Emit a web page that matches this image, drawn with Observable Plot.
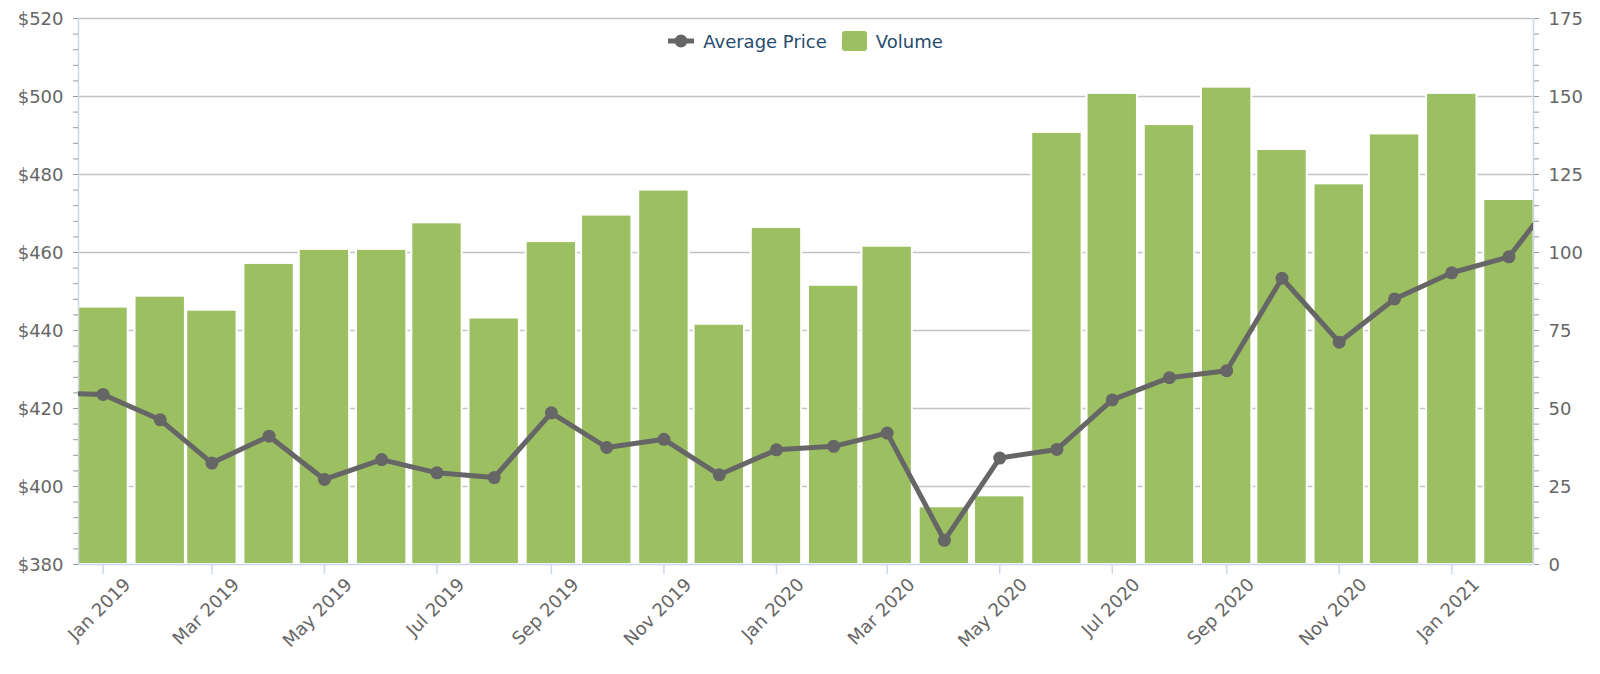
<!DOCTYPE html>
<html>
<head>
<meta charset="utf-8">
<script src="https://cdn.jsdelivr.net/npm/d3@7"></script>
<script src="https://cdn.jsdelivr.net/npm/@observablehq/plot@0.6"></script>
<style>
  html, body { margin: 0; padding: 0; background: #fff; }
  #wrap { position: relative; width: 1600px; height: 674px; font-family: "DejaVu Sans", sans-serif; }
  #legend { position: absolute; left: 78px; width: 1455px; top: 30px; height: 22px;
            display: flex; justify-content: center; align-items: center;
            font-size: 18px; color: #274b6d; }
  #legend .item { display: flex; align-items: center; }
  #legend svg { display: block; }
</style>
</head>
<body>
<div id="wrap">
  <div id="chart"></div>
  <div id="legend">
    <div class="item">
      <svg width="26" height="14"><line x1="0" y1="7" x2="26" y2="7" stroke="#666666" stroke-width="5"/><circle cx="13" cy="7" r="6.5" fill="#666666"/></svg>
      <span style="margin-left:9px">Average Price</span>
    </div>
    <div class="item" style="margin-left:15px">
      <svg width="25" height="20"><rect x="0" y="0" width="25" height="20" rx="3" fill="#9cbf62"/></svg>
      <span style="margin-left:9px">Volume</span>
    </div>
  </div>
</div>
<script>
// ---- Data ----
const priceMonths = ["2018-12","2019-01","2019-02","2019-03","2019-04","2019-05","2019-06","2019-07","2019-08","2019-09","2019-10","2019-11","2019-12",
  "2020-01","2020-02","2020-03","2020-04","2020-05","2020-06","2020-07","2020-08","2020-09","2020-10","2020-11","2020-12","2021-01","2021-02","2021-03"];
const averagePrice = [424, 423.6, 417.1, 406, 412.9, 401.8, 406.9, 403.5, 402.3, 418.9, 410, 412.1, 403,
  409.4, 410.3, 413.7, 386.2, 407.3, 409.5, 422.2, 427.9, 429.7, 453.4, 437, 448.1, 454.8, 458.9, 476];

const volumeMonths = ["2019-01","2019-02","2019-03","2019-04","2019-05","2019-06","2019-07","2019-08","2019-09","2019-10","2019-11","2019-12",
  "2020-01","2020-02","2020-03","2020-04","2020-05","2020-06","2020-07","2020-08","2020-09","2020-10","2020-11","2020-12","2021-01","2021-02"];
const volume = [82.5, 86, 81.5, 96.5, 101, 101, 109.5, 79, 103.5, 112, 120, 77,
  108, 89.5, 102, 18.5, 22, 138.5, 151, 141, 153, 133, 122, 138, 151, 117];

const priceTicks = [380, 400, 420, 440, 460, 480, 500, 520];
const volumeTicks = [0, 25, 50, 75, 100, 125, 150, 175];
const xTickMonths = ["2019-01","2019-03","2019-05","2019-07","2019-09","2019-11","2020-01","2020-03","2020-05","2020-07","2020-09","2020-11","2021-01"];

// ---- Build ----
const parse = d3.utcParse("%Y-%m");
const DAY = 864e5;
const priceMin = 380, priceMax = 520, volMax = 175;
const volToPrice = v => priceMin + v * (priceMax - priceMin) / volMax;

const priceRows = priceMonths.map((m, i) => ({date: parse(m), price: averagePrice[i]}));
const volRows = volumeMonths.map((m, i) => ({date: parse(m), volume: volume[i]}));
const xTicks = xTickMonths.map(parse);
const xDomain = [new Date(+volRows[0].date - 13.3 * DAY), new Date(+volRows[volRows.length - 1].date + 13.3 * DAY)];
const minorTicks = d3.range(priceMin, priceMax + 0.001, 4);
const rightTicks = volumeTicks.map(volToPrice);

const chart = Plot.plot({
  width: 1600,
  height: 674,
  marginTop: 18,
  marginBottom: 110,
  marginLeft: 78,
  marginRight: 67,
  style: {fontFamily: "DejaVu Sans, sans-serif", fontSize: "18px", background: "white", overflow: "visible"},
  x: {type: "utc", domain: xDomain, label: null},
  y: {domain: [priceMin, priceMax], label: null},
  marks: [
    Plot.gridY(priceTicks.slice(1), {stroke: "#c4c4c4", strokeOpacity: 1, strokeWidth: 1.3}),
    Plot.rectY(volRows, {
      x1: d => new Date(+d.date - 13.65 * DAY),
      x2: d => new Date(+d.date + 13.65 * DAY),
      y1: () => priceMin,
      y2: d => volToPrice(d.volume),
      fill: "#9cbf62",
      stroke: "white",
      strokeWidth: 2,
      clip: true
    }),
    Plot.ruleY([priceMin], {stroke: "#ccd6eb", strokeWidth: 1.5}),
    Plot.ruleX(xDomain, {stroke: "#ccd6eb", strokeWidth: 1.5}),
    Plot.axisY(minorTicks, {anchor: "left", tickSize: 5, tickFormat: () => "", stroke: "#999", strokeWidth: 1}),
    Plot.axisY(minorTicks, {anchor: "right", tickSize: 5, tickFormat: () => "", stroke: "#999", strokeWidth: 1}),
    Plot.axisY(priceTicks, {anchor: "left", tickSize: 0, tickPadding: 15, tickFormat: d => "$" + d, fill: "#666", fontSize: 18, dy: 1}),
    Plot.axisY(rightTicks, {anchor: "right", tickSize: 0, tickPadding: 15, tickFormat: (d, i) => volumeTicks[i], fill: "#666", fontSize: 18, dy: 1}),
    Plot.axisX(xTicks, {anchor: "bottom", tickSize: 10, tickFormat: () => "", stroke: "#ccd6eb", strokeWidth: 1.5}),
    Plot.axisX(xTicks, {anchor: "bottom", tickSize: 0, tickPadding: 17, dx: 24.5, tickRotate: -45, tickFormat: d3.utcFormat("%b %Y"), fill: "#666", fontSize: 18}),
    Plot.line(priceRows, {x: "date", y: "price", stroke: "#666666", strokeWidth: 5, clip: true}),
    Plot.dot(priceRows, {x: "date", y: "price", r: 6.5, fill: "#666666", clip: true})
  ]
});
document.getElementById("chart").appendChild(chart);
</script>
</body>
</html>
